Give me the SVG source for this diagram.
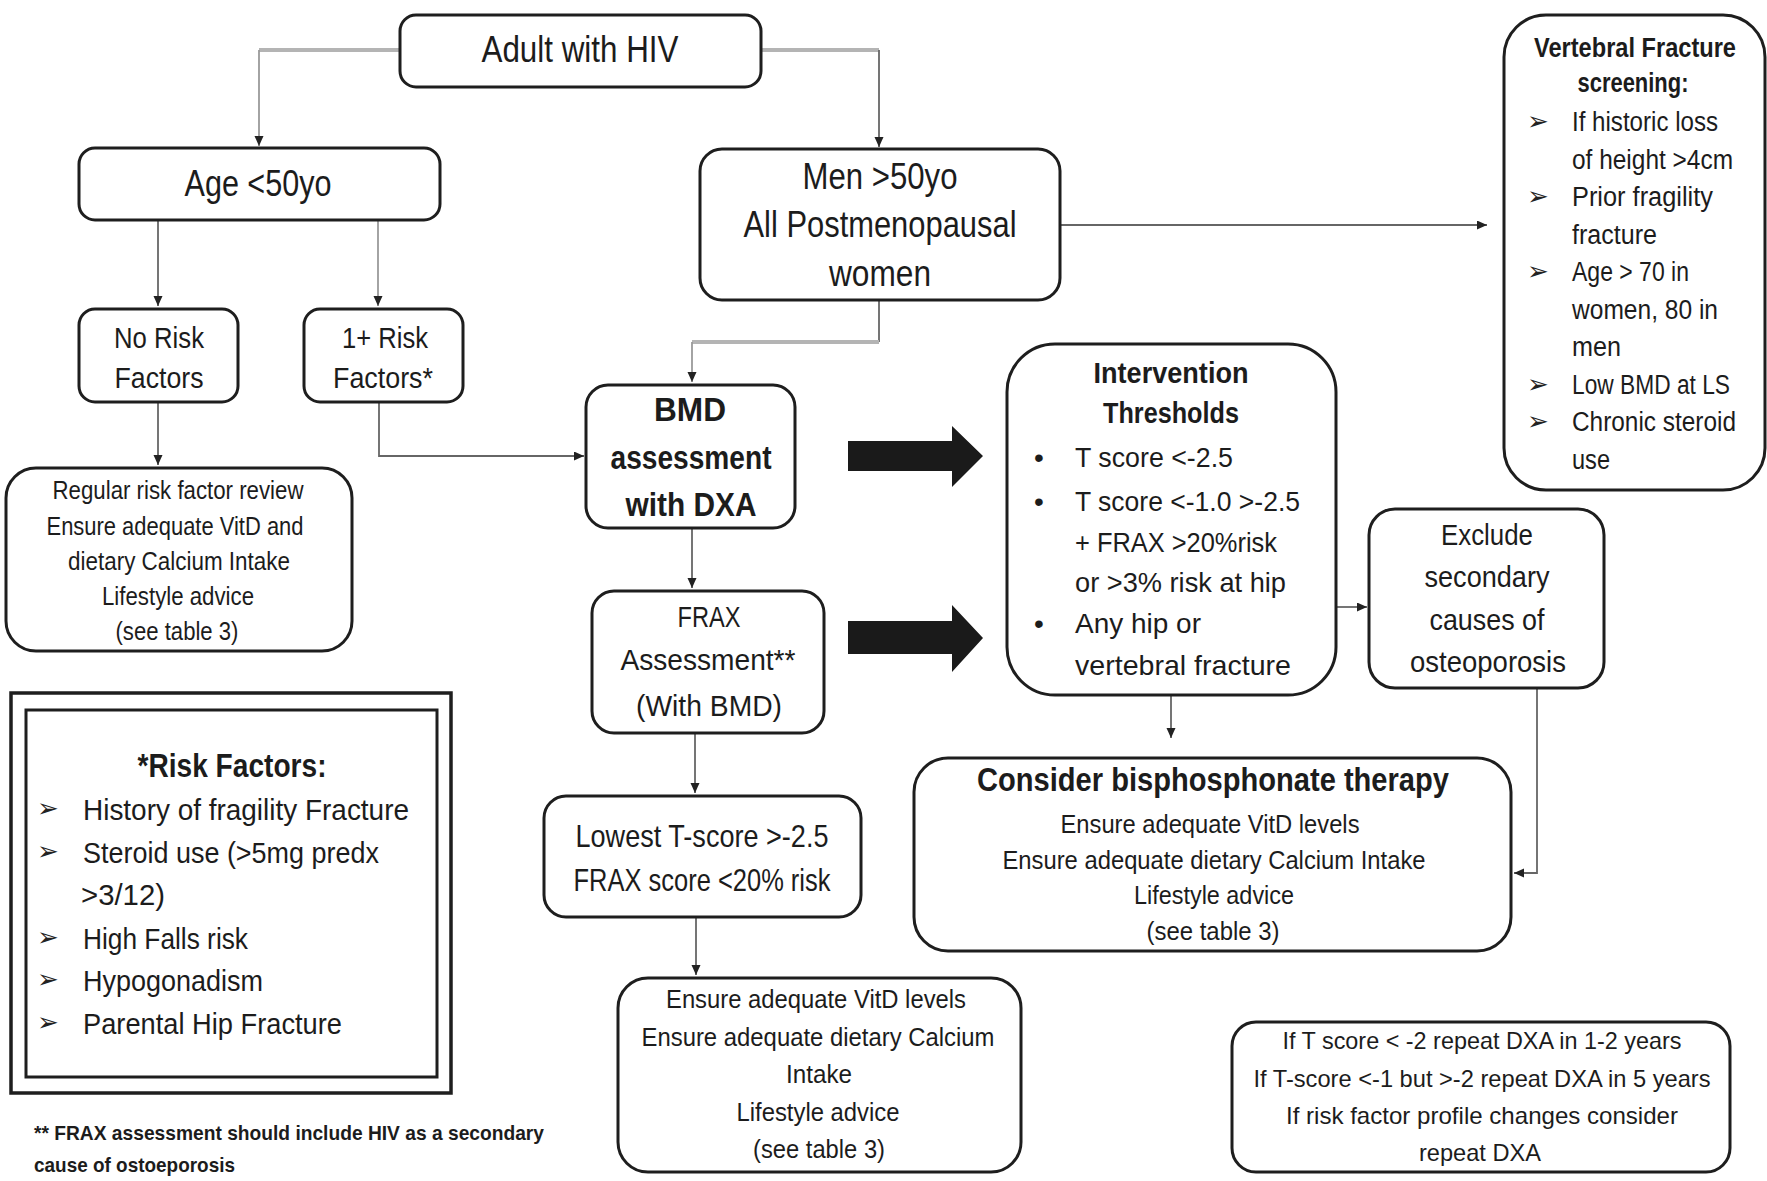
<svg xmlns="http://www.w3.org/2000/svg" width="1767" height="1181" viewBox="0 0 1767 1181">
  <defs>
    <marker id="ah" markerUnits="userSpaceOnUse" markerWidth="12" markerHeight="10" refX="10" refY="4.5" orient="auto">
      <path d="M0,0 L10,4.5 L0,9 z" fill="#222"/>
    </marker>
    <style>
      text { font-family: "Liberation Sans Narrow", "Liberation Sans", Arial, sans-serif; fill: #1c1c1c; }
      .box { fill: #fff; stroke: #1e1e1e; stroke-width: 3; }
      .c { fill: none; stroke: #666; stroke-width: 1.8; }
      .cl { fill: none; stroke: #9a9a9a; stroke-width: 1.8; }
      .ch { fill: none; stroke: #b4b4b4; stroke-width: 4; }
      .big { font-size: 37px; }
      .mid { font-size: 30px; }
      .sm { font-size: 26px; }
      .xs { font-size: 24px; }
      .b { font-weight: bold; }
      .m { text-anchor: middle; }
      .blk { fill: #1a1a1a; }
      .arw { font-family: "DejaVu Sans", sans-serif; font-size: 26px; fill: #222; }
    </style>
  </defs>

  <rect width="1767" height="1181" fill="#fff"/>

  <!-- connectors -->
  <g id="connectors">
    <path class="ch" d="M400,50 H259"/>
    <path class="cl" d="M259,50 V146" marker-end="url(#ah)"/>
    <path class="ch" d="M761,50 H879"/>
    <path class="c" d="M879,50 V147" marker-end="url(#ah)"/>
    <path class="c" d="M158,220 V306" marker-end="url(#ah)"/>
    <path class="cl" d="M378,220 V306" marker-end="url(#ah)"/>
    <path class="c" d="M158,402 V465" marker-end="url(#ah)"/>
    <path class="c" d="M379,402 V456 H584" marker-end="url(#ah)"/>
    <path class="c" d="M879,300 V342"/>
    <path class="ch" d="M879,342 H692"/>
    <path class="cl" d="M692,342 V382" marker-end="url(#ah)"/>
    <path class="c" d="M1060,225 H1487" marker-end="url(#ah)"/>
    <path class="c" d="M692,529 V588" marker-end="url(#ah)"/>
    <path class="c" d="M695,733 V793" marker-end="url(#ah)"/>
    <path class="c" d="M696,917 V975" marker-end="url(#ah)"/>
    <path class="c" d="M1337,607 H1367" marker-end="url(#ah)"/>
    <path class="c" d="M1171,695 V738" marker-end="url(#ah)"/>
    <path class="c" d="M1537,688 V873 H1514" marker-end="url(#ah)"/>
    <!-- block arrows -->
    <polygon class="blk" points="848,441 952,441 952,426 983,456 952,487 952,471 848,471"/>
    <polygon class="blk" points="848,621 952,621 952,605 983,638 952,672 952,654 848,654"/>
  </g>

  <g id="adult">
    <rect class="box" x="400" y="15" width="361" height="72" rx="16"/>
    <text class="big m" x="580" y="62" textLength="197" lengthAdjust="spacingAndGlyphs">Adult with HIV</text>
  </g>

  <g id="age">
    <rect class="box" x="79" y="148" width="361" height="72" rx="16"/>
    <text class="big m" x="258" y="196" textLength="147" lengthAdjust="spacingAndGlyphs">Age &lt;50yo</text>
  </g>

  <g id="men">
    <rect class="box" x="700" y="149" width="360" height="151" rx="22"/>
    <text class="big m" x="880" y="189" textLength="155" lengthAdjust="spacingAndGlyphs">Men &gt;50yo</text>
    <text class="big m" x="880" y="237" textLength="273" lengthAdjust="spacingAndGlyphs">All Postmenopausal</text>
    <text class="big m" x="880" y="286" textLength="102" lengthAdjust="spacingAndGlyphs">women</text>
  </g>

  <g id="no-risk">
    <rect class="box" x="79" y="309" width="159" height="93" rx="16"/>
    <text class="mid m" x="159" y="348" textLength="90" lengthAdjust="spacingAndGlyphs">No Risk</text>
    <text class="mid m" x="159" y="388" textLength="89" lengthAdjust="spacingAndGlyphs">Factors</text>
  </g>

  <g id="one-risk">
    <rect class="box" x="304" y="309" width="159" height="93" rx="16"/>
    <text class="mid m" x="385" y="348" textLength="86" lengthAdjust="spacingAndGlyphs">1+ Risk</text>
    <text class="mid m" x="383" y="388" textLength="100" lengthAdjust="spacingAndGlyphs">Factors*</text>
  </g>

  <g id="review">
    <rect class="box" x="6" y="468" width="346" height="183" rx="30"/>
    <text class="sm m" x="178" y="499" textLength="251" lengthAdjust="spacingAndGlyphs">Regular risk factor review</text>
    <text class="sm m" x="175" y="534.5" textLength="257" lengthAdjust="spacingAndGlyphs">Ensure adequate VitD and</text>
    <text class="sm m" x="179" y="570" textLength="222" lengthAdjust="spacingAndGlyphs">dietary Calcium Intake</text>
    <text class="sm m" x="178" y="605" textLength="152" lengthAdjust="spacingAndGlyphs">Lifestyle advice</text>
    <text class="sm m" x="177" y="640" textLength="123" lengthAdjust="spacingAndGlyphs">(see table 3)</text>
  </g>

  <g id="bmd">
    <rect class="box" x="586" y="385" width="209" height="143" rx="22"/>
    <text class="b m" font-size="33" x="690" y="421" textLength="72" lengthAdjust="spacingAndGlyphs">BMD</text>
    <text class="b m" font-size="33" x="691" y="469" textLength="161" lengthAdjust="spacingAndGlyphs">assessment</text>
    <text class="b m" font-size="33" x="691" y="516" textLength="131" lengthAdjust="spacingAndGlyphs">with DXA</text>
  </g>

  <g id="frax">
    <rect class="box" x="592" y="591" width="232" height="142" rx="22"/>
    <text class="mid m" x="709" y="627" textLength="63" lengthAdjust="spacingAndGlyphs">FRAX</text>
    <text class="mid m" x="708" y="670" textLength="175" lengthAdjust="spacingAndGlyphs">Assessment**</text>
    <text class="mid m" x="709" y="716" textLength="146" lengthAdjust="spacingAndGlyphs">(With BMD)</text>
  </g>

  <g id="lowest">
    <rect class="box" x="544" y="796" width="317" height="121" rx="22"/>
    <text class="m" font-size="32" x="702" y="847" textLength="253" lengthAdjust="spacingAndGlyphs">Lowest T-score &gt;-2.5</text>
    <text class="m" font-size="32" x="702" y="891" textLength="257" lengthAdjust="spacingAndGlyphs">FRAX score &lt;20% risk</text>
  </g>

  <g id="ensure">
    <rect class="box" x="618" y="978" width="403" height="194" rx="30"/>
    <text class="sm m" x="816" y="1008" textLength="300" lengthAdjust="spacingAndGlyphs">Ensure adequate VitD levels</text>
    <text class="sm m" x="818" y="1046" textLength="353" lengthAdjust="spacingAndGlyphs">Ensure adequate dietary Calcium</text>
    <text class="sm m" x="819" y="1083" textLength="66" lengthAdjust="spacingAndGlyphs">Intake</text>
    <text class="sm m" x="818" y="1121" textLength="163" lengthAdjust="spacingAndGlyphs">Lifestyle advice</text>
    <text class="sm m" x="819" y="1158" textLength="132" lengthAdjust="spacingAndGlyphs">(see table 3)</text>
  </g>

  <g id="intervention">
    <rect class="box" x="1007" y="344" width="329" height="351" rx="48"/>
    <text class="b m" font-size="30" x="1171" y="383" textLength="155" lengthAdjust="spacingAndGlyphs">Intervention</text>
    <text class="b m" font-size="30" x="1171" y="423" textLength="136" lengthAdjust="spacingAndGlyphs">Thresholds</text>
    <text font-size="28" x="1034" y="467">•</text>
    <text font-size="28" x="1075" y="467" textLength="158" lengthAdjust="spacingAndGlyphs">T score &lt;-2.5</text>
    <text font-size="28" x="1034" y="511">•</text>
    <text font-size="28" x="1075" y="511" textLength="225" lengthAdjust="spacingAndGlyphs">T score &lt;-1.0 &gt;-2.5</text>
    <text font-size="28" x="1075" y="552" textLength="202" lengthAdjust="spacingAndGlyphs">+ FRAX &gt;20%risk</text>
    <text font-size="28" x="1075" y="592" textLength="211" lengthAdjust="spacingAndGlyphs">or &gt;3% risk at hip</text>
    <text font-size="28" x="1034" y="633">•</text>
    <text font-size="28" x="1075" y="633" textLength="126" lengthAdjust="spacingAndGlyphs">Any hip or</text>
    <text font-size="28" x="1075" y="675" textLength="216" lengthAdjust="spacingAndGlyphs">vertebral fracture</text>
  </g>

  <g id="exclude">
    <rect class="box" x="1369" y="509" width="235" height="179" rx="26"/>
    <text class="m" font-size="29" x="1487" y="545" textLength="92" lengthAdjust="spacingAndGlyphs">Exclude</text>
    <text class="m" font-size="29" x="1487" y="587" textLength="125" lengthAdjust="spacingAndGlyphs">secondary</text>
    <text class="m" font-size="29" x="1487" y="630" textLength="115" lengthAdjust="spacingAndGlyphs">causes of</text>
    <text class="m" font-size="29" x="1488" y="672" textLength="156" lengthAdjust="spacingAndGlyphs">osteoporosis</text>
  </g>

  <g id="bisphosphonate">
    <rect class="box" x="914" y="758" width="597" height="193" rx="34"/>
    <text class="b m" font-size="34" x="1213" y="791" textLength="472" lengthAdjust="spacingAndGlyphs">Consider bisphosphonate therapy</text>
    <text class="sm m" x="1210" y="833" textLength="299" lengthAdjust="spacingAndGlyphs">Ensure adequate VitD levels</text>
    <text class="sm m" x="1214" y="869" textLength="423" lengthAdjust="spacingAndGlyphs">Ensure adequate dietary Calcium Intake</text>
    <text class="sm m" x="1214" y="904" textLength="160" lengthAdjust="spacingAndGlyphs">Lifestyle advice</text>
    <text class="sm m" x="1213" y="940" textLength="133" lengthAdjust="spacingAndGlyphs">(see table 3)</text>
  </g>

  <g id="vertebral">
    <rect class="box" x="1504" y="15" width="261" height="475" rx="42"/>
    <text class="b m" font-size="27" x="1635" y="57" textLength="202" lengthAdjust="spacingAndGlyphs">Vertebral Fracture</text>
    <text class="b m" font-size="27" x="1633" y="92" textLength="111" lengthAdjust="spacingAndGlyphs">screening:</text>
    <g font-size="27">
      <text class="arw" x="1527" y="130">➢</text>
      <text x="1572" y="131" textLength="146" lengthAdjust="spacingAndGlyphs">If historic loss</text>
      <text x="1572" y="168.5" textLength="161" lengthAdjust="spacingAndGlyphs">of height &gt;4cm</text>
      <text class="arw" x="1527" y="205">➢</text>
      <text x="1572" y="206" textLength="141" lengthAdjust="spacingAndGlyphs">Prior fragility</text>
      <text x="1572" y="243.5" textLength="85" lengthAdjust="spacingAndGlyphs">fracture</text>
      <text class="arw" x="1527" y="280">➢</text>
      <text x="1572" y="281" textLength="117" lengthAdjust="spacingAndGlyphs">Age &gt; 70 in</text>
      <text x="1572" y="318.5" textLength="146" lengthAdjust="spacingAndGlyphs">women, 80 in</text>
      <text x="1572" y="356" textLength="49" lengthAdjust="spacingAndGlyphs">men</text>
      <text class="arw" x="1527" y="392.5">➢</text>
      <text x="1572" y="393.5" textLength="158" lengthAdjust="spacingAndGlyphs">Low BMD at LS</text>
      <text class="arw" x="1527" y="430">➢</text>
      <text x="1572" y="431" textLength="164" lengthAdjust="spacingAndGlyphs">Chronic steroid</text>
      <text x="1572" y="468.5" textLength="38" lengthAdjust="spacingAndGlyphs">use</text>
    </g>
  </g>

  <g id="risk-factors">
    <rect x="11" y="693" width="440" height="400" fill="#fff" stroke="#1e1e1e" stroke-width="3.5"/>
    <rect x="26" y="710" width="411" height="367" fill="none" stroke="#1e1e1e" stroke-width="3"/>
    <text class="b m" font-size="34" x="232" y="777" textLength="189" lengthAdjust="spacingAndGlyphs">*Risk Factors:</text>
    <g font-size="30">
      <text class="arw" x="37" y="817">➢</text>
      <text x="83" y="820" textLength="326" lengthAdjust="spacingAndGlyphs">History of fragility Fracture</text>
      <text class="arw" x="37" y="860">➢</text>
      <text x="83" y="863" textLength="296" lengthAdjust="spacingAndGlyphs">Steroid use (&gt;5mg predx</text>
      <text x="81" y="905" textLength="84" lengthAdjust="spacingAndGlyphs">&gt;3/12)</text>
      <text class="arw" x="37" y="946">➢</text>
      <text x="83" y="949" textLength="165" lengthAdjust="spacingAndGlyphs">High Falls risk</text>
      <text class="arw" x="37" y="988">➢</text>
      <text x="83" y="991" textLength="180" lengthAdjust="spacingAndGlyphs">Hypogonadism</text>
      <text class="arw" x="37" y="1031">➢</text>
      <text x="83" y="1034" textLength="259" lengthAdjust="spacingAndGlyphs">Parental Hip Fracture</text>
    </g>
  </g>

  <g id="footnote">
    <text class="b" font-size="21" x="34" y="1140" textLength="510" lengthAdjust="spacingAndGlyphs">** FRAX assessment should include HIV as a secondary</text>
    <text class="b" font-size="21" x="34" y="1172" textLength="201" lengthAdjust="spacingAndGlyphs">cause of ostoeporosis</text>
  </g>

  <g id="repeat-dxa">
    <rect class="box" x="1232" y="1022" width="498" height="150" rx="24"/>
    <text class="xs m" x="1482" y="1049" textLength="399" lengthAdjust="spacingAndGlyphs">If T score &lt; -2 repeat DXA in 1-2 years</text>
    <text class="xs m" x="1482" y="1087" textLength="457" lengthAdjust="spacingAndGlyphs">If T-score &lt;-1 but &gt;-2 repeat DXA in 5 years</text>
    <text class="xs m" x="1482" y="1124" textLength="392" lengthAdjust="spacingAndGlyphs">If risk factor profile changes consider</text>
    <text class="xs m" x="1480" y="1161" textLength="122" lengthAdjust="spacingAndGlyphs">repeat DXA</text>
  </g>
</svg>
